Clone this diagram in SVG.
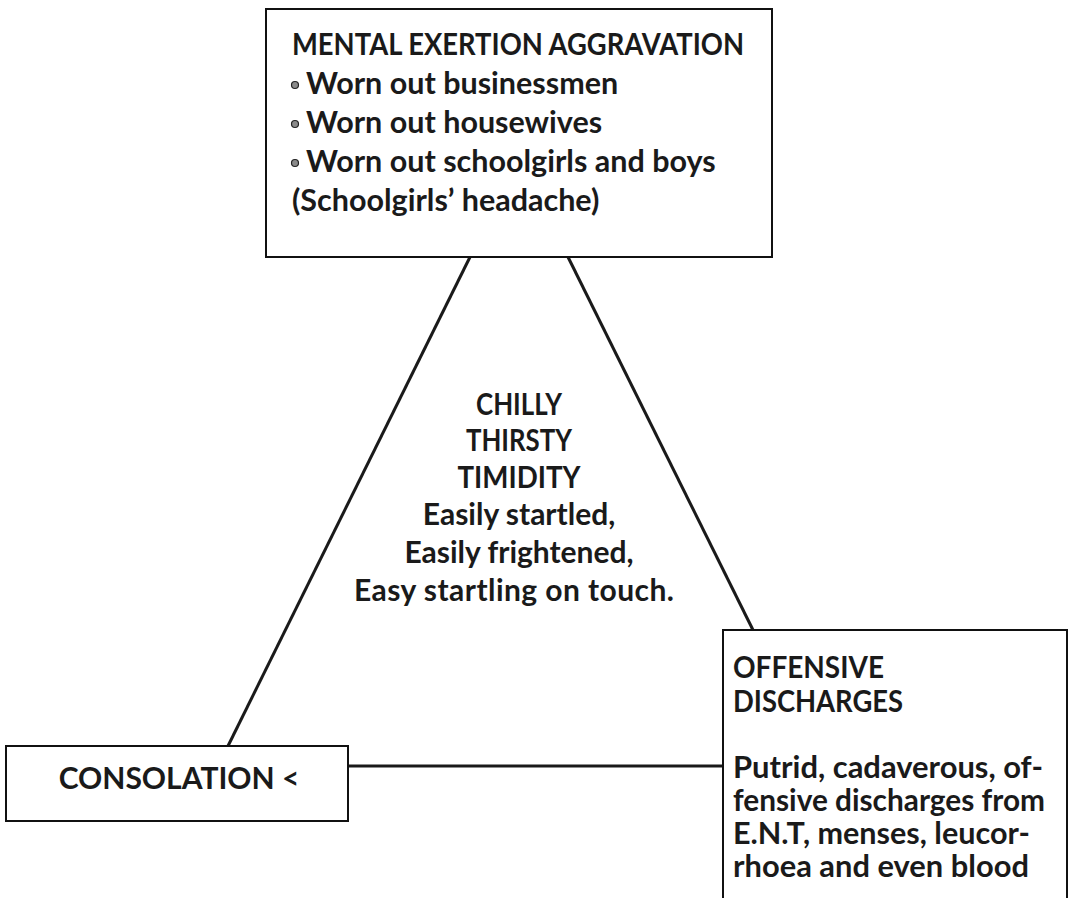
<svg xmlns="http://www.w3.org/2000/svg" width="1069" height="898" viewBox="0 0 1069 898">
<style>
.box{fill:#fff;stroke:#111;stroke-width:2}
.conn{stroke:#1a1a1a;stroke-width:3;fill:none}
.bul{fill:#8a8a8a;stroke:#222;stroke-width:1.2}
text{font-family:Lato,"Liberation Sans",sans-serif;font-weight:bold;fill:#1a1a1a}
.t1{font-size:30.5px}
.c{font-size:30px;text-anchor:middle}
.big{font-size:30px;text-anchor:middle}
.off{font-size:30px}
</style>
<rect width="1069" height="898" fill="#fff"/>
<g id="connectors">
<line class="conn" x1="470" y1="257" x2="228" y2="746"/>
<line class="conn" x1="568" y1="257" x2="753" y2="630"/>
<line class="conn" x1="348" y1="766" x2="723" y2="766"/>
</g>
<g id="mental-exertion">
<rect class="box" x="266" y="9" width="506" height="248"/>
<text class="t1" x="292" y="55" textLength="452" lengthAdjust="spacingAndGlyphs">MENTAL EXERTION AGGRAVATION</text>
<circle class="bul" cx="295" cy="85" r="3.5"/>
<text class="t1" x="306" y="94">Worn out businessmen</text>
<circle class="bul" cx="295" cy="124" r="3.5"/>
<text class="t1" x="306" y="133">Worn out housewives</text>
<circle class="bul" cx="295" cy="163" r="3.5"/>
<text class="t1" x="306" y="172">Worn out schoolgirls and boys</text>
<text class="t1" x="292" y="211">(Schoolgirls’ headache)</text>
</g>
<g id="center">
<text class="c" x="519" y="415" textLength="86" lengthAdjust="spacingAndGlyphs">CHILLY</text>
<text class="c" x="519" y="451" textLength="106" lengthAdjust="spacingAndGlyphs">THIRSTY</text>
<text class="c" x="519" y="488" textLength="123" lengthAdjust="spacingAndGlyphs">TIMIDITY</text>
<text class="c" x="519" y="525">Easily startled,</text>
<text class="c" x="519" y="563">Easily frightened,</text>
<text class="c" x="514" y="601" textLength="320" lengthAdjust="spacing">Easy startling on touch.</text>
</g>
<g id="consolation">
<rect class="box" x="6" y="746" width="342" height="75"/>
<text class="big" x="179" y="789">CONSOLATION &lt;</text>
</g>
<g id="offensive">
<rect class="box" x="723" y="630" width="344" height="290"/>
<text class="off" x="733" y="678" textLength="151" lengthAdjust="spacingAndGlyphs">OFFENSIVE</text>
<text class="off" x="733" y="712" textLength="170" lengthAdjust="spacingAndGlyphs">DISCHARGES</text>
<text class="off" x="733" y="778" textLength="310" lengthAdjust="spacingAndGlyphs">Putrid, cadaverous, of-</text>
<text class="off" x="733" y="811" textLength="312" lengthAdjust="spacingAndGlyphs">fensive discharges from</text>
<text class="off" x="733" y="844" textLength="297" lengthAdjust="spacingAndGlyphs">E.N.T, menses, leucor-</text>
<text class="off" x="733" y="877" textLength="296" lengthAdjust="spacingAndGlyphs">rhoea and even blood</text>
</g>
</svg>
